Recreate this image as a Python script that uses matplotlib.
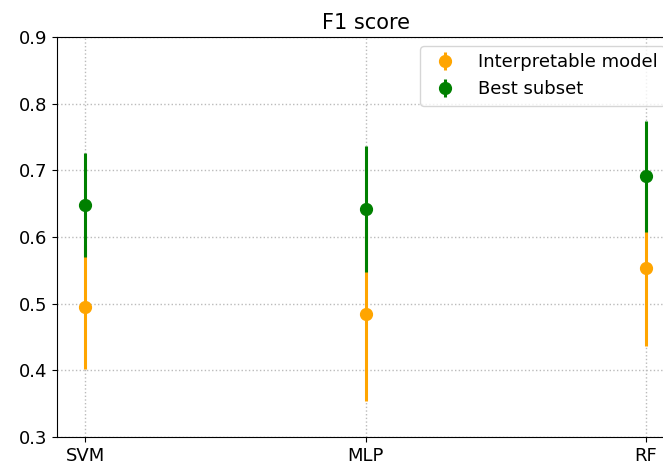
import matplotlib
matplotlib.use("Agg")
import numpy as np
import matplotlib.pyplot as plt

models = ["SVM", "MLP", "RF"]
interp_mean = [0.495, 0.485, 0.554]
interp_err = [0.093, 0.131, 0.117]
best_mean = [0.648, 0.642, 0.691]
best_err = [0.078, 0.095, 0.083]

W, H = 663, 470
fig = plt.figure(figsize=(W / 100, H / 100), dpi=100)
# axes run past the right edge of the picture, as in the reference
ax = fig.add_axes([57 / W, 1 - 437 / H, (674 - 57) / W, 400 / H])

x = np.arange(len(models))
ax.errorbar(x, interp_mean, yerr=interp_err, fmt="o", color="orange",
            markersize=8.5, elinewidth=2.2, label="Interpretable model")
ax.errorbar(x, best_mean, yerr=best_err, fmt="o", color="green",
            markersize=8.5, elinewidth=2.2, label="Best subset")

ax.set_xticks(x)
ax.set_xticklabels(models)
ax.set_ylim(0.3, 0.9)
ax.set_yticks(np.arange(0.3, 0.91, 0.1))
ax.tick_params(labelsize=13)
ax.grid(True, linestyle=":", color="#bbbbbb", linewidth=1)
ax.set_title("F1 score", fontsize=15)
ax.legend(loc="upper right", fontsize=13)

fig.savefig("out.png", dpi=100)
